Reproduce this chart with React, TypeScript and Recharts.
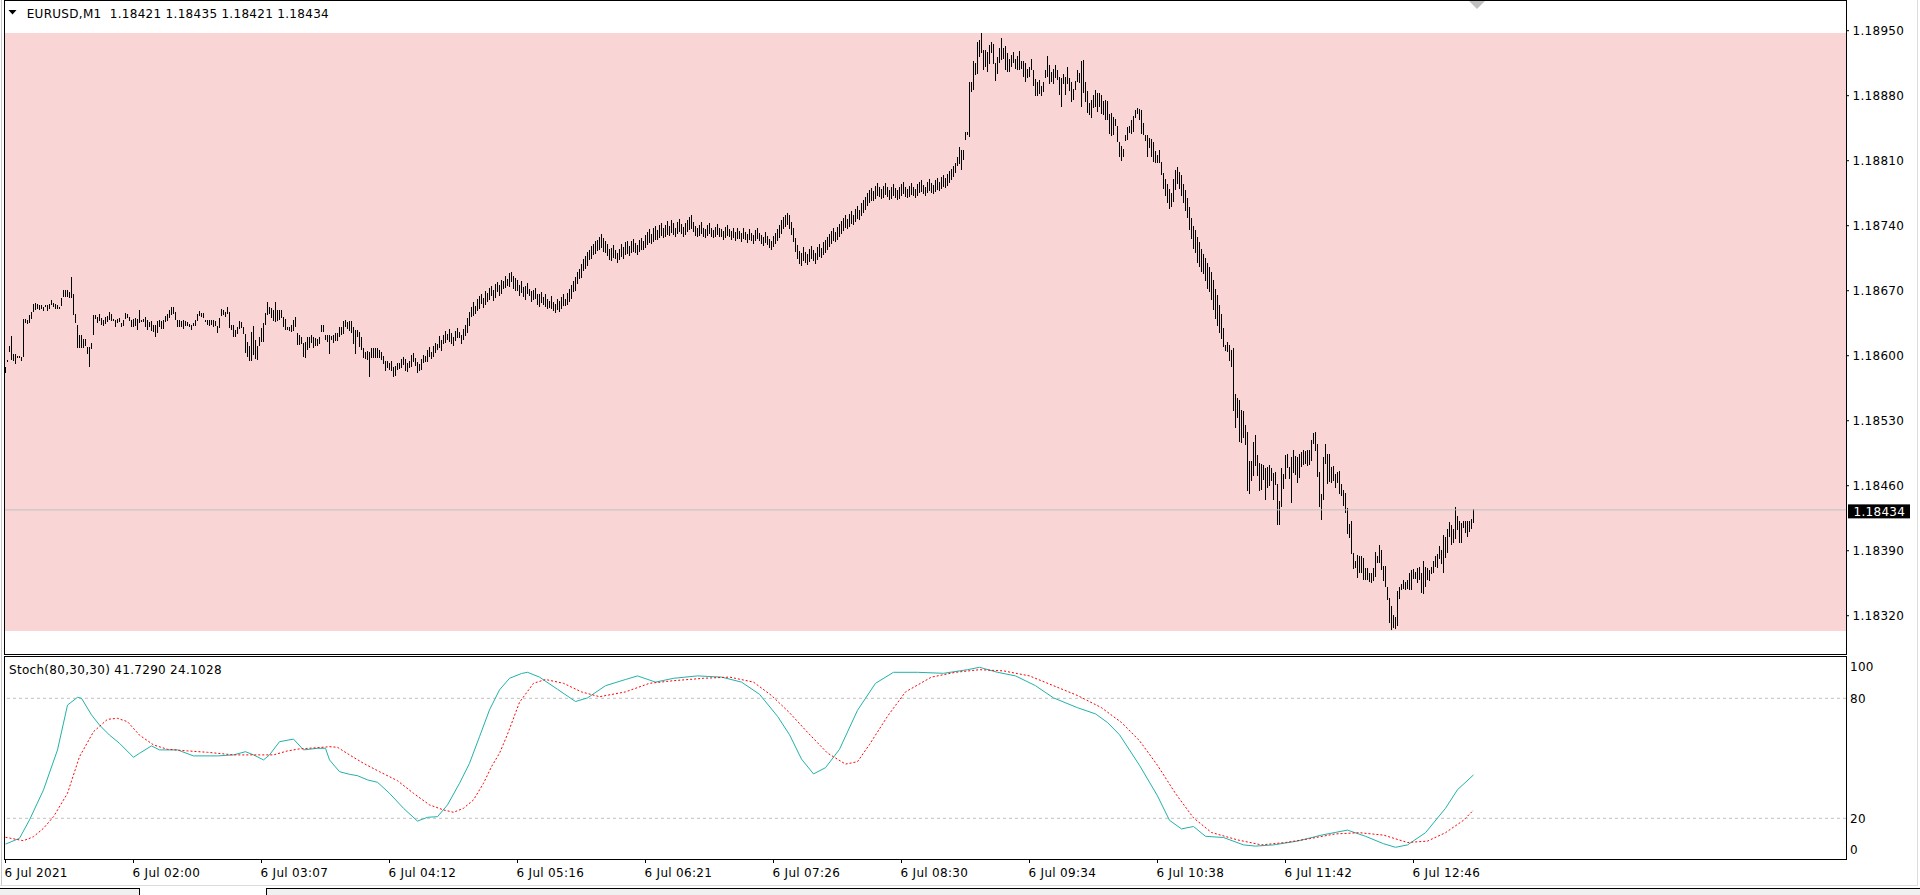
import React from 'react';
import { ComposedChart, Bar, Line, XAxis, YAxis, ReferenceArea, ReferenceLine } from 'recharts';

const FONT = 'DejaVu Sans';
// prices are stored in points (1e-5) above 1.18000
const BASE = 1.18;
const TITLE = 'EURUSD,M1  1.18421 1.18435 1.18421 1.18434';
const STOCH_TITLE = 'Stoch(80,30,30) 41.7290 24.1028';

const HIGH = [
588,595,610,621,602,602,600,600,599,640,
640,639,644,647,656,657,656,655,655,653,
655,655,656,660,657,656,655,653,662,671,
671,671,669,685,667,645,633,622,622,618,
618,609,609,614,644,644,642,645,641,638,
642,643,647,645,640,638,640,641,635,639,
646,645,642,639,640,641,640,649,638,640,
642,638,636,637,633,633,637,638,637,638,
643,645,649,652,652,647,638,638,637,638,
637,636,634,633,635,639,645,648,646,646,
639,638,638,638,639,637,632,641,650,649,
647,652,647,633,633,628,631,637,636,631,
623,615,610,626,632,617,610,620,630,635,
646,658,653,651,649,658,649,649,649,642,
640,631,631,633,638,642,624,622,620,614,
615,620,620,622,620,619,618,620,633,633,
622,622,622,621,622,624,624,631,631,637,
638,636,637,637,631,628,628,626,620,608,
604,605,604,608,608,608,608,606,604,600,
594,594,592,594,588,589,592,592,
596,599,597,592,594,601,603,598,593,591,
597,601,600,606,609,604,611,614,613,621,
617,622,627,623,629,625,620,627,630,626,
622,629,633,641,647,652,658,654,661,664,
667,662,670,668,673,675,671,677,679,676,
682,680,686,683,689,690,686,684,681,676,
680,674,675,678,672,670,671,673,667,666,
669,663,667,661,659,664,658,656,661,659,
663,666,661,668,672,676,680,685,690,693,
699,704,707,712,714,718,720,723,725,728,
731,727,723,720,715,716,719,714,711,715,
720,717,722,724,718,723,726,721,719,725,
727,723,730,733,736,731,737,740,735,741,
743,737,741,745,740,746,743,738,744,747,
742,739,743,746,749,751,744,740,737,741,
744,738,736,741,743,738,735,739,742,738,
736,734,739,741,736,734,737,733,738,734,
732,737,733,731,736,732,730,735,737,732,
730,728,733,729,726,724,729,732,736,741,
746,749,752,754,751,744,737,727,719,713,
711,717,712,709,715,718,714,711,717,720,
716,722,725,728,731,734,737,733,739,742,
745,748,751,747,753,756,752,758,761,757,
764,768,771,775,778,781,777,783,786,782,
779,783,786,782,778,782,785,781,778,782,
785,787,782,779,783,786,782,780,785,787,
789,784,782,787,790,786,784,789,791,787,
792,795,791,796,799,801,804,
807,814,825,822,
822,841,841,895,895,917,915,938,940,948,
929,929,927,935,938,936,915,922,931,942,
931,934,926,919,924,927,919,923,928,917,
917,915,909,911,920,908,898,895,897,890,
895,908,923,913,906,909,913,908,900,899,
903,900,911,899,895,887,896,908,904,917,
918,895,885,872,875,881,886,883,883,881,
874,875,874,860,861,857,855,847,830,826,
823,838,846,847,854,858,865,867,866,865,
851,838,838,834,833,830,820,816,821,809,
797,790,785,780,775,790,800,803,798,795,
785,778,770,760,748,740,735,728,722,715,
710,705,700,695,690,682,672,665,655,645,
630,
612,615,612,606,
608,559,554,552,542,540,525,518,487,487,
507,515,493,485,483,482,479,480,482,479,
474,475,462,444,479,473,493,494,480,491,
498,492,491,494,496,499,497,498,498,509,
517,518,505,475,451,491,505,494,494,480,
481,473,475,476,462,455,452,436,419,422,
388,379,385,384,384,382,371,371,366,366,
371,389,384,396,391,374,374,351,339,330,
321,319,347,351,354,358,356,358,366,369,
370,367,371,373,366,379,372,371,369,373,
379,384,386,395,391,407,405,413,421,418,
413,437,427,422,420,422,422,422,422,424,
435
];

const LOW = [
582,593,604,595,595,591,598,598,595,599,
636,635,635,640,647,649,651,650,651,649,
653,649,651,655,653,651,651,651,653,664,
664,664,663,662,644,635,608,608,608,608,
610,601,588,608,622,640,636,637,633,632,
635,637,638,638,638,631,636,637,631,633,
640,641,638,631,631,632,628,635,636,637,
631,627,631,626,625,620,624,631,628,628,
637,638,640,643,644,638,631,630,631,628,
632,632,631,628,632,633,637,643,642,641,
637,633,632,633,632,632,625,630,642,644,
642,645,630,628,620,620,624,628,630,623,
603,599,594,595,601,597,595,610,615,615,
633,644,645,640,637,637,637,638,640,631,
628,628,627,625,626,631,611,611,613,599,
598,606,608,613,608,610,610,613,625,625,
617,615,602,617,613,615,615,620,622,623,
631,628,626,624,613,602,620,610,606,597,
597,595,577,597,597,597,597,597,595,591,
583,586,585,583,577,578,584,586,
586,590,584,582,587,588,593,589,581,583,
585,592,594,593,598,596,599,603,607,608,
605,612,614,617,615,613,610,616,619,620,
612,617,621,625,632,641,643,645,648,650,
656,651,655,658,660,664,659,662,668,664,
667,671,673,675,674,679,672,670,669,664,
667,663,660,666,664,658,660,661,655,652,
657,654,653,650,651,650,648,646,649,647,
650,653,654,655,658,661,668,670,677,682,
684,691,693,697,703,704,708,709,713,714,
716,712,710,707,703,702,705,704,700,703,
706,704,708,710,707,710,712,710,708,712,
714,713,716,719,721,720,722,725,724,727,
729,726,728,730,729,732,730,728,731,733,
731,728,730,733,735,736,733,729,727,729,
731,728,726,729,731,728,726,728,730,728,
727,724,727,729,727,724,726,723,726,725,
722,725,724,721,724,723,720,723,725,723,
720,718,721,719,716,714,717,720,723,727,
731,736,739,741,736,730,722,712,704,699,
697,702,700,697,701,704,702,699,703,706,
705,708,711,714,717,720,723,722,725,728,
731,734,737,736,739,742,741,744,747,746,
750,754,757,761,764,767,766,769,772,771,
768,770,773,771,767,769,772,770,767,769,
772,774,771,769,771,773,772,770,772,775,
776,774,772,775,777,775,774,776,778,777,
779,782,780,783,786,789,792,
796,804,807,800,
811,832,838,836,884,886,902,904,922,927,
908,911,906,915,926,915,896,904,915,918,
919,908,906,905,911,915,908,908,908,908,
900,895,899,900,908,891,880,880,882,879,
884,899,900,893,895,893,899,897,881,868,
892,881,893,885,874,875,886,895,893,867,
883,874,861,859,856,867,868,863,868,861,
859,853,854,839,836,838,847,830,814,810,
814,832,832,839,839,841,856,861,854,839,
838,832,814,823,814,809,807,807,807,795,
780,772,765,758,760,765,778,785,780,772,
765,755,748,735,725,715,710,700,695,690,
688,680,672,668,660,650,640,632,625,618,
610,
606,604,595,588,
540,522,533,507,507,511,504,454,451,465,
470,482,470,455,455,466,445,457,459,465,
445,461,418,418,437,457,467,479,467,442,
473,472,463,468,480,483,483,481,482,486,
505,498,470,437,423,445,483,462,464,463,
465,458,463,451,449,438,431,408,404,387,
371,371,360,366,366,358,358,358,356,355,
357,362,376,377,369,358,351,337,312,304,
307,306,309,338,348,348,347,348,348,348,
359,359,355,359,344,344,351,358,357,365,
366,372,371,381,376,366,382,387,405,396,
398,403,412,398,399,414,409,405,410,413,
420
];

const PRICE_TICKS = [320, 390, 460, 530, 600, 670, 740, 810, 880, 950];
const LAST_PRICE = 434;
const DAY_HIGH = 947.5;
const DAY_LOW = 303.5;

const TIME_TICK_IDX = [0, 64, 128, 192, 256, 320, 384, 448, 512, 576, 640, 704];
const TIME_LABELS = ['6 Jul 2021', '6 Jul 02:00', '6 Jul 03:07', '6 Jul 04:12', '6 Jul 05:16', '6 Jul 06:21', '6 Jul 07:26', '6 Jul 08:30', '6 Jul 09:34', '6 Jul 10:38', '6 Jul 11:42', '6 Jul 12:46'];

const K_IDX = [0,7,12,19,26,31,36,38,43,47,52,57,64,67,73,77,86,94,106,114,120,124,129,132,137,144,149,156,160,162,167,172,176,181,186,192,199,206,211,216,221,227,232,237,242,247,252,258,261,267,276,285,291,300,310,316,325,334,346,358,368,377,386,392,398,404,410,417,426,435,444,456,469,481,487,496,505,515,524,536,545,551,557,567,576,582,588,594,600,609,619,625,634,646,658,671,680,689,695,701,710,720,726,734];
const K_VAL = [7.1,10,19.2,34.2,54.2,76.6,80.5,80,71.7,66.6,61.6,57.5,50.5,52.5,56.2,54.2,54.2,51.2,51.2,51.7,53.3,51.7,49.2,51.7,58.3,59.6,54.2,55,55,49.2,43.3,42,41.3,39.2,38,32.5,25,18.6,20.5,20.8,26.7,37.5,47.5,60.8,74.2,84.2,90,92.4,93,90.6,84.5,78.4,80.2,86.3,89.4,91.2,88.1,90,91.2,90.6,88.1,82,71,61.8,49.6,42.2,45.3,54.5,74,87.5,93,93,92.5,94.3,95.5,93,91.2,86.3,80.2,75.3,72.2,67.9,61.8,46.5,31.2,19,14.7,15.9,11,10.4,6.7,6.1,6.7,8.6,11.6,14.1,11,7.3,5.5,6.7,12.8,25,34.3,41.7];
const D_IDX = [0,9,14,19,24,31,37,44,51,56,61,67,74,81,91,101,114,124,134,141,147,156,162,166,172,179,187,196,204,212,219,224,229,234,239,243,247,251,257,264,270,279,288,297,310,322,334,349,362,374,383,392,401,411,420,426,432,441,450,463,475,487,499,512,524,536,548,558,567,576,585,594,603,616,628,640,652,665,677,689,701,711,720,729,734];
const D_VAL = [10.5,8.8,10.8,15,20.8,32.5,50.8,63.3,69.5,70,68.3,61.6,56.7,54.5,53.7,53,51.7,51.7,51.7,53.7,54.7,55.3,55.8,55.5,51.7,47.5,43.3,38.8,32.5,26.7,24.2,23,25,29.2,37.5,45.8,52.5,62,78,87.5,89.4,87.5,83.2,80.8,83.2,87.5,88.8,90,90.6,88.1,81.4,72.8,63,52.6,47.1,48.3,56.9,71,83.2,90.6,93,94.3,93.7,91.2,86.3,81.4,75.3,67.9,58.8,46.5,32.4,20.2,12.9,9.2,6.7,7.9,9.8,12.2,12.8,11.6,7.9,8.6,12.8,19,24.1];
const STOCH_LEVELS = [20, 80];
const STOCH_TICKS = [0, 20, 80, 100];

const N = Math.min(HIGH.length, LOW.length);
const barData = Array.from({ length: N }, (_, i) => ({ i, hl: [LOW[i], HIGH[i]] }));
const kData = K_IDX.map((i, j) => ({ i, v: K_VAL[j] }));
const dData = D_IDX.map((i, j) => ({ i, v: D_VAL[j] }));

const fmtPrice = (v: number) => (BASE + v / 100000).toFixed(5);
const X_DOMAIN: [number, number] = [-0.25, 920.25];
const LS = 0.3;

const BarShape = (p: any) => {
  const { x, width, y, height } = p;
  if (x == null || y == null || isNaN(x) || isNaN(y)) return null;
  const cx = Math.round(x + width / 2 - 0.5);
  const top = Math.round(Math.min(y, y + height));
  const h = Math.max(1, Math.round(Math.abs(height)));
  return <rect x={cx} y={top} width={1} height={h} fill="#000" />;
};

const PriceTag = (p: any) => {
  const vb = p.viewBox;
  if (!vb) return null;
  const x0 = vb.x + vb.width + 2;
  const yc = vb.y;
  return (
    <g>
      <rect x={x0} y={yc - 5.5} width={62} height={14} fill="#000" />
      <text x={x0 + 5.5} y={yc + 1.5} dy="0.355em" fill="#fff" fontSize={12} fontFamily={FONT} letterSpacing={LS}>{fmtPrice(LAST_PRICE)}</text>
    </g>
  );
};

const PriceTick = (p: any) => {
  const { x, y, payload } = p;
  return (
    <text x={x} y={y} dy="0.355em" textAnchor="start" fill="#000" fontSize={12} fontFamily={FONT} letterSpacing={LS}>
      {fmtPrice(payload.value)}
    </text>
  );
};

const TimeTick = (p: any) => {
  const { x, y, payload } = p;
  const k = TIME_TICK_IDX.indexOf(payload.value);
  return (
    <text x={x - 1} y={y} dy="0.71em" textAnchor="start" fill="#000" fontSize={12} fontFamily={FONT} letterSpacing={LS}>
      {k >= 0 ? TIME_LABELS[k] : ''}
    </text>
  );
};

const StochTick = (p: any) => {
  const { x, y, payload } = p;
  const off = payload.value === 100 ? 8.4 : payload.value === 0 ? -8.3 : 0;
  return (
    <text x={x} y={y + off} dy="0.355em" textAnchor="start" fill="#000" fontSize={12} fontFamily={FONT} letterSpacing={LS}>
      {payload.value}
    </text>
  );
};

export default function App() {
  return (
    <div style={{ position: 'absolute', left: 0, top: 0, width: 1920, height: 895, background: '#fff', overflow: 'hidden' }}>
      <div style={{ position: 'absolute', left: 0, top: 0 }}>
        <ComposedChart width={1920} height={656} data={barData} margin={{ top: 2, right: 0, bottom: 2, left: 5 }}>
          <XAxis dataKey="i" type="number" domain={X_DOMAIN} hide allowDataOverflow />
          <YAxis
            orientation="right"
            width={74}
            type="number"
            domain={[278.8, 980.9]}
            allowDataOverflow
            ticks={PRICE_TICKS}
            interval={0}
            tick={<PriceTick />}
            tickSize={3}
            tickMargin={3.5}
            tickLine={{ stroke: '#000' }}
            axisLine={false}
          />
          <ReferenceArea y1={DAY_LOW} y2={DAY_HIGH} fill="#f9d5d5" fillOpacity={1} stroke="none" />
          <ReferenceLine y={LAST_PRICE} stroke="#c0c0c0" strokeWidth={1} label={<PriceTag />} />
          <Bar dataKey="hl" barSize={1} shape={<BarShape />} isAnimationActive={false} />
        </ComposedChart>
      </div>
      <div style={{ position: 'absolute', left: 0, top: 656 }}>
        <ComposedChart width={1920} height={239} margin={{ top: 0, right: 0, bottom: 0, left: 5 }}>
          <XAxis
            dataKey="i"
            type="number"
            domain={X_DOMAIN}
            allowDataOverflow
            ticks={TIME_TICK_IDX}
            interval={0}
            tick={<TimeTick />}
            tickSize={4}
            tickMargin={5}
            tickLine={{ stroke: '#000' }}
            axisLine={false}
            height={36}
          />
          <YAxis
            orientation="right"
            width={74}
            type="number"
            domain={[-0.35, 101.15]}
            allowDataOverflow
            ticks={STOCH_TICKS}
            interval={0}
            tick={<StochTick />}
            tickSize={2}
            tickMargin={2}
            tickLine={false}
            axisLine={false}
          />
          {STOCH_LEVELS.map((l) => (
            <ReferenceLine key={l} y={l} stroke="#c0c0c0" strokeDasharray="3 3" />
          ))}
          <Line data={kData} dataKey="v" type="linear" stroke="#20b2aa" strokeWidth={1} dot={false} isAnimationActive={false} />
          <Line data={dData} dataKey="v" type="linear" stroke="#ff0000" strokeWidth={1} strokeDasharray="2 2" dot={false} isAnimationActive={false} />
        </ComposedChart>
      </div>
      <svg width={1920} height={895} style={{ position: 'absolute', left: 0, top: 0, pointerEvents: 'none' }}>
        <line x1={1.5} y1={0} x2={1.5} y2={886} stroke="#c8c8c8" />
        <line x1={1917.5} y1={0} x2={1917.5} y2={886} stroke="#dcdcdc" />
        <rect x={4.5} y={0.5} width={1842} height={654} fill="none" stroke="#000" />
        <rect x={4.5} y={656.5} width={1842} height={203} fill="none" stroke="#000" />
        <polygon points="8.5,10 16.5,10 12.5,14.5" fill="#000" />
        <text x={26.7} y={18} fontSize={12} fontFamily={FONT} fill="#000" letterSpacing={LS} style={{ whiteSpace: 'pre' }}>{TITLE}</text>
        <text x={9} y={673.5} fontSize={12} fontFamily={FONT} fill="#000" letterSpacing={LS}>{STOCH_TITLE}</text>
        <polygon points="1469,1 1485,1 1477,9" fill="#c0c0c0" />
        <line x1={0} y1={885.5} x2={1918} y2={885.5} stroke="#dcdcdc" />
        <rect x={0} y={888} width={139} height={7} fill="#f0f0f0" />
        <rect x={267} y={888} width={1653} height={7} fill="#f0f0f0" />
        <line x1={0} y1={888.5} x2={139} y2={888.5} stroke="#000" />
        <line x1={139.5} y1={888} x2={139.5} y2={895} stroke="#000" />
        <line x1={266.5} y1={888} x2={266.5} y2={895} stroke="#000" />
        <line x1={266} y1={888.5} x2={1920} y2={888.5} stroke="#000" />
      </svg>
    </div>
  );
}
